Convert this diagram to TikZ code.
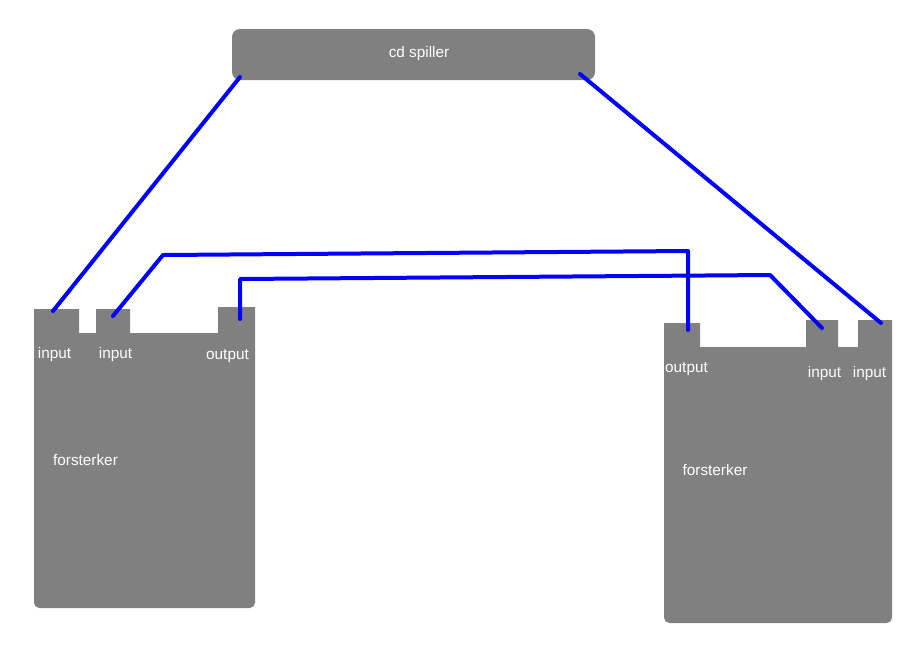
\documentclass[tikz,border=0pt]{standalone}
\usepackage{fontspec}
\setmainfont{Liberation Sans}
\tikzset{every picture/.style={line width=0.75pt}}
\tikzset{
  box/.style={fill={rgb, 255:red, 128; green, 128; blue, 128 }},
  wire/.style={draw={rgb, 255:red, 0; green, 0; blue, 255 }, line width=3pt, line cap=round, line join=round},
  lbl/.style={text=white, inner sep=0.75pt, font=\fontsize{11.5}{13}\selectfont}
}
\begin{document}
\begin{tikzpicture}[x=0.75pt,y=0.75pt,yscale=-1,xscale=1]
\useasboundingbox (0,0) rectangle (918,644);

%Rounded Rect [id:cd]
\fill [box, rounded corners=6] (232,29) rectangle (595,80);
%Shape: left amplifier
\fill [box] (34,309) -- (79,309) -- (79,333) -- (96,333) -- (96,309) -- (130,309) -- (130,333) -- (218,333) -- (218,307) -- (255,307) [rounded corners=4] -- (255,608) -- (34,608) [sharp corners] -- cycle ;
%Shape: right amplifier
\fill [box] (664,323) -- (700,323) -- (700,347) -- (806,347) -- (806,320) -- (838,320) -- (838,347) -- (858,347) -- (858,320) -- (892,320) [rounded corners=4] -- (892,623) -- (664,623) [sharp corners] -- cycle ;

% Text Node
\node [lbl] (cd) at (419,54) {cd spiller};
% Text Node
\node [lbl] (inA1) at (54.5,355) {input};
% Text Node
\node [lbl] (inA2) at (115.5,355) {input};
% Text Node
\node [lbl] (outA) at (227.5,356) {output};
% Text Node
\node [lbl] (ampA) at (85.5,460) {forsterker};
% Text Node
\node [lbl] (outB) at (686.5,369) {output};
% Text Node
\node [lbl] (inB1) at (824.5,374) {input};
% Text Node
\node [lbl] (inB2) at (869.5,374) {input};
% Text Node
\node [lbl] (ampB) at (715,470) {forsterker};

%Jacks
\coordinate (cdL) at (240,77);
\coordinate (cdR) at (580,74);
\coordinate (jA1) at (53,311);
\coordinate (jA2) at (113,316);
\coordinate (jAo) at (240,319);
\coordinate (jBo) at (688,330);
\coordinate (jB1) at (822,328);
\coordinate (jB2) at (881,323);
%Bends
\coordinate (b1) at (163,255);
\coordinate (b2) at (688,251);
\coordinate (b3) at (240,279);
\coordinate (b4) at (770,275);

%Straight Lines
\draw [wire] (cdL) -- (jA1) ;
\draw [wire] (cdR) -- (jB2) ;
\draw [wire] (jA2) -- (b1) -- (b2) -- (jBo) ;
\draw [wire] (jAo) -- (b3) -- (b4) -- (jB1) ;

\end{tikzpicture}
\end{document}
